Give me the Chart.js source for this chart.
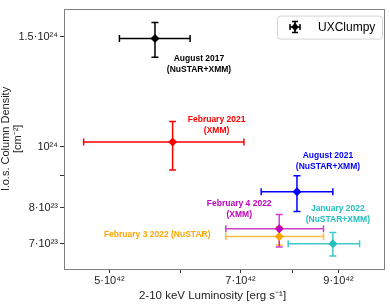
<!DOCTYPE html>
<html>
<head>
<meta charset="utf-8">
<script src="https://cdn.jsdelivr.net/npm/chart.js@4.4.0/dist/chart.umd.min.js"></script>
<style>
  html, body { margin: 0; padding: 0; background: #fff; }
  #wrap { width: 390px; height: 305px; }
</style>
</head>
<body>
<div id="wrap"><canvas id="myChart"></canvas></div>
<script>
const campaigns   = ['August 2017', 'February 2021', 'August 2021', 'February 3 2022', 'February 4 2022', 'January 2022'];
const instruments = ['NuSTAR+XMM', 'XMM', 'NuSTAR+XMM', 'NuSTAR', 'XMM', 'NuSTAR+XMM'];
const lum   = [5.62e42, 5.88e42, 8.09e42, 7.73e42, 7.73e42, 8.87e42];
const lumLo = [5.13e42, 4.68e42, 7.38e42, 6.74e42, 6.74e42, 7.91e42];
const lumHi = [6.15e42, 7.06e42, 8.87e42, 8.66e42, 8.66e42, 9.50e42];
const nh    = [1.49e24, 1.018e24, 8.48e23, 7.19e23, 7.40e23, 7.00e23];
const nhLo  = [1.39e24, 9.18e23, 7.88e23, 6.97e23, 6.92e23, 6.69e23];
const nhHi  = [1.58e24, 1.098e24, 8.99e23, 7.45e23, 7.80e23, 7.30e23];

const xTicks = [5e42, 6e42, 7e42, 8e42, 9e42];
const xTickLabels = ['5·10⁴²', '', '7·10⁴²', '', '9·10⁴²'];
const yTicks = [7e23, 8e23, 9e23, 1e24, 1.5e24];
const yTickLabels = ['7·10²³', '8·10²³', '', '10²⁴', '1.5·10²⁴'];
const xTitle = '2-10 keV Luminosity [erg s⁻¹]';

// styles
const colors    = ['#000000', '#ff0000', '#0000ff', '#ffa500', '#bf00bf', '#1fbfbf'];
const barColors = ['#000000', '#ff0000', '#0000ff', 'rgba(255,165,0,0.75)', 'rgba(191,0,191,0.75)', 'rgba(31,191,191,0.85)'];
const labelDx = [44, 44, 31, -122, -40, 5];
const labelDy = [20, -22, -36, -2, -25, -35];
const labelInline = [false, false, false, true, false, false];

const FONT = '"Liberation Sans", Arial, sans-serif';

let $points = lum.map(function($v, $i) { return { x: $v, y: nh[$i] }; });

const errorBars = {
    id: 'errorBars',
    beforeDatasetsDraw(chart) {
        const $c = chart.ctx, $x = chart.scales.x, $y = chart.scales.y;
        $c.save();
        $c.lineWidth = 1.5;
        lum.forEach(function($v, $i) {
            let px = $x.getPixelForValue($v), py = $y.getPixelForValue(nh[$i]);
            let x0 = $x.getPixelForValue(lumLo[$i]), x1 = $x.getPixelForValue(lumHi[$i]);
            let y0 = $y.getPixelForValue(nhLo[$i]), y1 = $y.getPixelForValue(nhHi[$i]);
            $c.strokeStyle = barColors[$i];
            $c.beginPath();
            $c.moveTo(x0, py); $c.lineTo(x1, py);
            $c.moveTo(px, y0); $c.lineTo(px, y1);
            $c.moveTo(x0, py - 3.5); $c.lineTo(x0, py + 3.5);
            $c.moveTo(x1, py - 3.5); $c.lineTo(x1, py + 3.5);
            $c.moveTo(px - 3.5, y0); $c.lineTo(px + 3.5, y0);
            $c.moveTo(px - 3.5, y1); $c.lineTo(px + 3.5, y1);
            $c.stroke();
        });
        $c.restore();
    },
    afterDraw(chart) {
        const $c = chart.ctx, $x = chart.scales.x, $y = chart.scales.y, a = chart.chartArea;
        $c.save();
        // frame
        $c.strokeStyle = '#808080';
        $c.lineWidth = 1;
        $c.strokeRect(Math.round(a.left) + 0.5, Math.round(a.top) + 0.5, Math.round(a.right - a.left) - 1, Math.round(a.bottom - a.top));
        // x title (matplotlib put it a bit left of centre)
        $c.font = '11.5px ' + FONT;
        $c.fillStyle = '#222';
        $c.textAlign = 'center';
        $c.textBaseline = 'middle';
        $c.fillText(xTitle, (a.left + a.right) / 2 - 12, a.bottom + 27);
        // annotations
        $c.font = 'bold 8.5px ' + FONT;
        lum.forEach(function($v, $i) {
            let px = $x.getPixelForValue($v) + labelDx[$i], py = $y.getPixelForValue(nh[$i]) + labelDy[$i];
            let lines = labelInline[$i] ? [campaigns[$i] + ' (' + instruments[$i] + ')'] : [campaigns[$i], '(' + instruments[$i] + ')'];
            $c.fillStyle = colors[$i];
            lines.forEach(function($t, $k) { $c.fillText($t, px, py + $k * 10.7); });
        });
        // legend
        let lw = 105, lh = 23, lx = a.right - 3 - lw, ly = a.top + 7;
        $c.beginPath();
        $c.roundRect(lx + 0.5, ly + 0.5, lw, lh, 3);
        $c.fillStyle = 'rgba(255,255,255,0.8)';
        $c.fill();
        $c.strokeStyle = '#d5d5d5';
        $c.stroke();
        let mx = lx + 18, my = ly + 11.5;
        $c.strokeStyle = '#000';
        $c.lineWidth = 1.5;
        $c.beginPath();
        $c.moveTo(mx - 5, my); $c.lineTo(mx + 5, my);
        $c.moveTo(mx - 5, my - 3); $c.lineTo(mx - 5, my + 3);
        $c.moveTo(mx + 5, my - 3); $c.lineTo(mx + 5, my + 3);
        $c.moveTo(mx, my - 5.5); $c.lineTo(mx, my + 5.5);
        $c.moveTo(mx - 3, my - 5.5); $c.lineTo(mx + 3, my - 5.5);
        $c.moveTo(mx - 3, my + 5.5); $c.lineTo(mx + 3, my + 5.5);
        $c.stroke();
        $c.fillStyle = '#000';
        $c.beginPath();
        $c.moveTo(mx, my - 4.5); $c.lineTo(mx + 3.5, my); $c.lineTo(mx, my + 4.5); $c.lineTo(mx - 3.5, my);
        $c.closePath();
        $c.fill();
        $c.font = '12px ' + FONT;
        $c.textAlign = 'left';
        $c.fillText('UXClumpy', lx + 41, my + 0.5);
        $c.restore();
    }
};

const $myChart = new Chart(document.getElementById('myChart'), {
    type: 'scatter',
    data: {
        datasets: [{
            label: 'UXClumpy',
            data: $points,
            pointStyle: 'rectRot',
            pointRadius: 4.5,
            pointHoverRadius: 4.5,
            pointBackgroundColor: colors,
            pointBorderColor: colors,
            pointBorderWidth: 0
        }]
    },
    options: {
        responsive: true,
        maintainAspectRatio: false,
        animation: false,
        layout: { padding: { top: 6, right: 5, left: 0, bottom: 0 } },
        plugins: { legend: { display: false }, tooltip: { enabled: false } },
        scales: {
            x: {
                type: 'logarithmic',
                min: 4.45e42,
                max: 1.014e43,
                afterBuildTicks: function(axis) { axis.ticks = xTicks.map(function(v) { return { value: v }; }); },
                afterFit: function(scale) { scale.height = 36; },
                ticks: {
                    autoSkip: false,
                    maxRotation: 0,
                    padding: 1,
                    color: '#222',
                    font: { family: FONT, size: 11 },
                    callback: function(v) { return xTickLabels[xTicks.indexOf(v)]; }
                },
                grid: { drawOnChartArea: false, drawTicks: true, tickLength: 4, color: '#333' },
                border: { display: false }
            },
            y: {
                type: 'logarithmic',
                min: 6.38e23,
                max: 1.663e24,
                afterBuildTicks: function(axis) { axis.ticks = yTicks.map(function(v) { return { value: v }; }); },
                afterFit: function(scale) { scale.width = 64; },
                ticks: {
                    autoSkip: false,
                    padding: 2,
                    color: '#222',
                    font: { family: FONT, size: 11 },
                    callback: function(v) { return yTickLabels[yTicks.indexOf(v)]; }
                },
                grid: { drawOnChartArea: false, drawTicks: true, tickLength: 4, color: '#333' },
                border: { display: false },
                title: {
                    display: true,
                    text: ['l.o.s. Column Density', '[cm⁻²]'],
                    color: '#222',
                    padding: { top: 0, bottom: 0 },
                    font: { family: FONT, size: 11, lineHeight: 1.1 }
                }
            }
        }
    },
    plugins: [errorBars]
});
</script>
</body>
</html>
